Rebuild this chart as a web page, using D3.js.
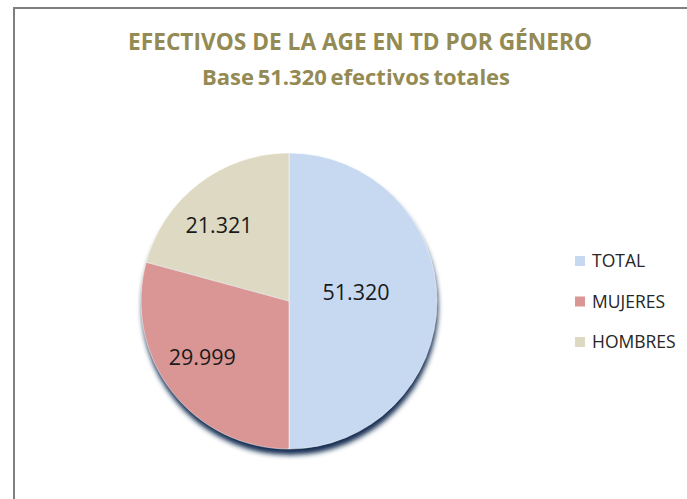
<!DOCTYPE html>
<html>
<head>
<meta charset="utf-8">
<script src="https://cdn.jsdelivr.net/npm/d3@7"></script>
<style>
	body { margin: 0; background: #fff; }
	svg { display: block; }
</style>
</head>
<body>
<div id="chart"></div>
<script>
// data
const categories = ["TOTAL", "MUJERES", "HOMBRES"];
const values = [51320, 29999, 21321];
const valueLabels = ["51.320", "29.999", "21.321"];
const colors = ["#C6D9F1", "#D99694", "#DDD9C3"];
const titleLines = ["EFECTIVOS DE LA AGE EN TD POR GÉNERO", "Base 51.320 efectivos totales"];

const width = 687, height = 499;
const cx = 289, cy = 301, radius = 148;

const svg = d3.select("#chart").append("svg")
	.attr("width", width)
	.attr("height", height);

// chart area border (left and top only visible)
svg.append("rect")
	.attr("x", 14)
	.attr("y", 8)
	.attr("width", width + 20)
	.attr("height", height + 20)
	.attr("fill", "#fff")
	.attr("stroke", "#7f7f7f")
	.attr("stroke-width", 2);

// title
const title = svg.append("text")
	.attr("text-anchor", "middle")
	.style("font-family", "'Open Sans', sans-serif")
	.style("font-weight", "bold")
	.style("fill", "#948A54");

title.append("tspan")
	.attr("x", 360)
	.attr("y", 50)
	.style("font-size", "22.7px")
	.text(titleLines[0]);

title.append("tspan")
	.attr("x", 356)
	.attr("y", 85)
	.style("font-size", "22px")
	.style("word-spacing", "-2px")
	.text(titleLines[1]);

// shadow filter
const defs = svg.append("defs");
const shadow = defs.append("filter")
	.attr("id", "pie-shadow")
	.attr("x", "-20%").attr("y", "-20%")
	.attr("width", "140%").attr("height", "140%");
shadow.append("feGaussianBlur")
	.attr("stdDeviation", 2.5);

const pie = d3.pie()
	.sort(null)
	.value(d => d);

const arc = d3.arc()
	.innerRadius(0)
	.outerRadius(radius);

const arcs = pie(values);

const g = svg.append("g")
	.attr("transform", `translate(${cx},${cy})`);

// dark blue shadow beneath the pie
g.append("circle")
	.attr("cx", 1)
	.attr("cy", 6)
	.attr("r", radius)
	.attr("fill", "#132f52")
	.attr("filter", "url(#pie-shadow)");

g.selectAll("path.slice")
	.data(arcs)
	.enter()
	.append("path")
	.attr("class", "slice")
	.attr("d", arc)
	.attr("fill", (d, i) => colors[i])
	.attr("stroke", "#fff")
	.attr("stroke-width", 0.5);

// value labels
const labelArc = d3.arc()
	.innerRadius(radius * 0.5)
	.outerRadius(radius * 0.5);

const labelOffsets = [[-7, -9], [-28, 11], [-25, -17]];

g.selectAll("text.value")
	.data(arcs)
	.enter()
	.append("text")
	.attr("class", "value")
	.attr("transform", (d, i) => {
		const c = labelArc.centroid(d);
		return `translate(${c[0] + labelOffsets[i][0]},${c[1] + labelOffsets[i][1]})`;
	})
	.attr("text-anchor", "middle")
	.attr("dy", "0.36em")
	.style("font-family", "'Open Sans', sans-serif")
	.style("font-size", "21.5px")
	.style("fill", "#1a1a1a")
	.text((d, i) => valueLabels[i]);

// legend
const legend = svg.append("g")
	.attr("transform", "translate(575, 261)");

categories.forEach((name, i) => {
	const item = legend.append("g")
		.attr("transform", `translate(0, ${i * 40.5})`);

	item.append("rect")
		.attr("x", 0)
		.attr("y", -5)
		.attr("width", 10)
		.attr("height", 10)
		.attr("fill", colors[i]);

	item.append("text")
		.attr("x", 17)
		.attr("y", 0)
		.attr("dy", "0.36em")
		.style("font-family", "'Open Sans', sans-serif")
		.style("font-size", "17.5px")
		.style("fill", "#262626")
		.text(name);
});
</script>
</body>
</html>
